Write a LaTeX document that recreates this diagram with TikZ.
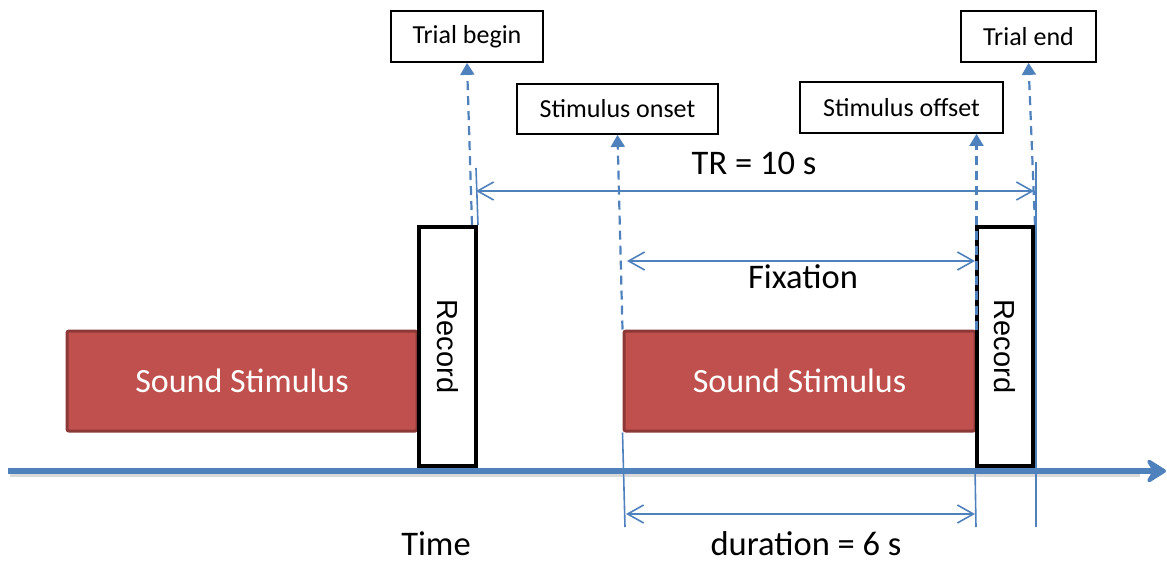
\documentclass[tikz,border=0pt]{standalone}
\usepackage{fontspec}
\setmainfont{Carlito}
\newfontfamily\recfont{Liberation Sans}
\usetikzlibrary{arrows.meta,calc}
\definecolor{offblue}{RGB}{79,129,189}
\definecolor{offred}{RGB}{192,80,77}
\definecolor{offredline}{RGB}{140,56,54}

\begin{document}
\begin{tikzpicture}[x=1pt,y=-1pt,
  eventbox/.style={draw=black,line width=1.8pt,fill=white,inner sep=0pt,
    font=\fontsize{26}{30}\selectfont},
  soundbox/.style={draw=offredline,line width=3pt,fill=offred,rounded corners=2pt,
    text=white,inner sep=0pt,font=\fontsize{34}{38}\selectfont},
  recbox/.style={draw=black,line width=4pt,fill=white,inner sep=0pt},
  rectext/.style={rotate=-90,font=\recfont\fontsize{29}{32}\selectfont},
  eventarrow/.style={draw=offblue,line width=2.2pt,dash pattern=on 9pt off 6pt,
    -{Triangle[length=12pt,width=14pt]}},
  spanarrow/.style={draw=offblue,line width=1.6pt,
    {Straight Barb[length=16pt,width=18pt]}-{Straight Barb[length=16pt,width=18pt]}},
  guide/.style={draw=offblue,line width=1.6pt},
  lbl/.style={font=\fontsize{34.5}{38}\selectfont,inner sep=0pt}
]
\useasboundingbox (0,0) rectangle (1167,562);

% time axis with a soft shadow
\draw[line width=6pt,black!25,opacity=0.6] (10,474) -- (1140,474);
\coordinate (axL) at (8,471);
\coordinate (axR) at (1166,471);
\draw[line width=6pt,offblue,-{Stealth[length=24pt,width=30pt,inset=9pt,round]}] (axL) -- (axR);

% event labels
\node[eventbox,minimum width=152,minimum height=51] (tb) at (467,36.5) {Trial begin};
\node[eventbox,minimum width=135,minimum height=51] (te) at (1028.5,36.5) {Trial end};
\node[eventbox,minimum width=201,minimum height=50] (so) at (617.5,109) {Stimulus onset};
\node[eventbox,minimum width=203,minimum height=51] (sf) at (901.5,107.5) {Stimulus offset};

% stimulus and recording blocks
\node[soundbox,minimum width=350,minimum height=100] (s1) at (242,381) {Sound Stimulus};
\node[soundbox,minimum width=351,minimum height=100] (s2) at (799.5,381) {Sound Stimulus};
\node[recbox,minimum width=57,minimum height=239] (r1) at (447.5,346.5) {};
\node[rectext] (r1t) at (r1.center) {Record};
\node[recbox,minimum width=56,minimum height=239] (r2) at (1005,346.5) {};
\node[rectext] (r2t) at (r2.center) {Record};

% dashed event pointers
\draw[eventarrow] ($(r1.north east)+(-6,0)$) -- (tb.south);
\draw[eventarrow] (s2.north west) -- (so.south);
\draw[eventarrow] (s2.north east) -- (s2.north east |- sf.south);
\draw[eventarrow] (r2.north east) -- (te.south);

% TR span
\coordinate (trL) at (476,168);
\coordinate (trR) at (1036,162);
\coordinate (trRb) at (1036,527);
\draw[guide] (r1.north east) -- (trL);
\draw[guide] (trR) -- (trRb);
\draw[spanarrow] (476,191) -- (1034,191);
\node[lbl] (trlbl) at (754,163) {TR = 10 s};

% fixation span
\draw[spanarrow] (627,261) -- (975,261);
\node[lbl] (fixlbl) at (803,277) {Fixation};

% stimulus duration span
\coordinate (dL) at (625,527);
\coordinate (dR) at (976,527);
\draw[guide] (s2.south west) -- (dL);
\draw[guide] (r2.south west) -- (dR);
\draw[spanarrow] (626,514) -- (975,514);
\node[lbl,anchor=base] (durlbl) at (806,555) {duration = 6 s};

\node[lbl,anchor=base] (timelbl) at (436,555) {Time};
\end{tikzpicture}
\end{document}
